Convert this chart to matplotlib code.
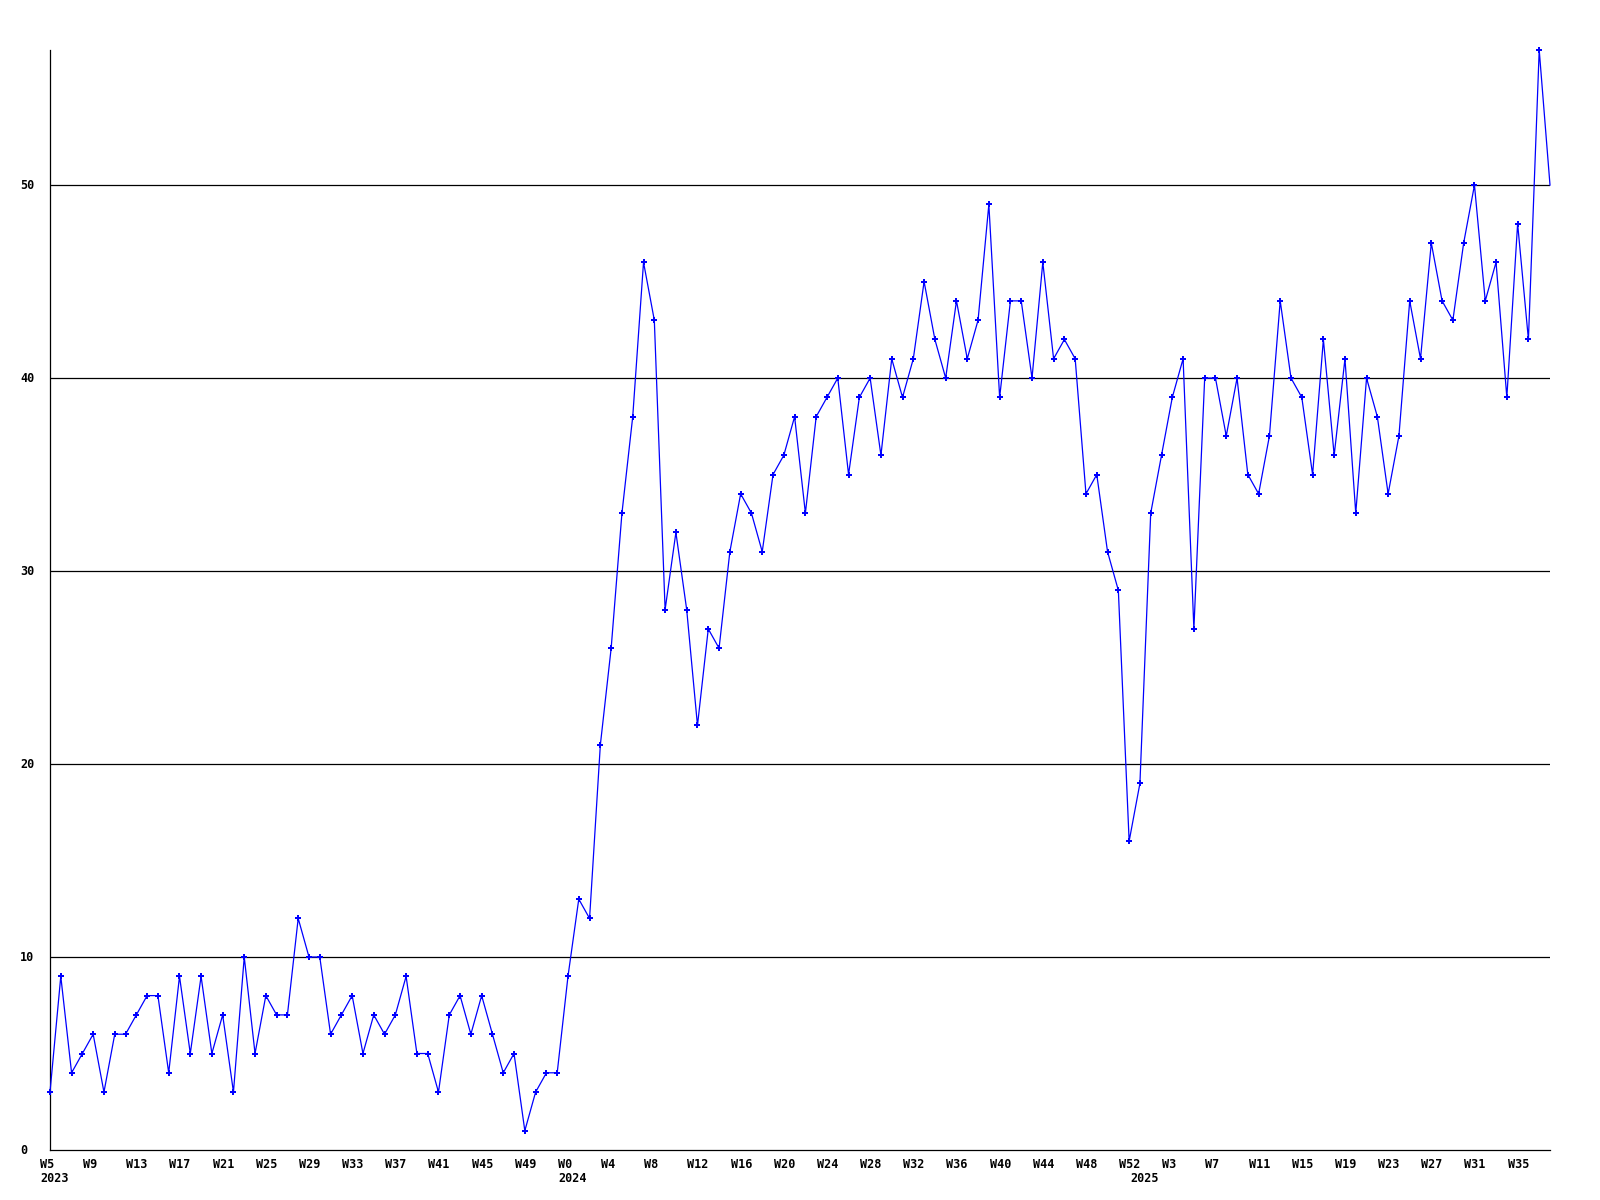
import matplotlib
matplotlib.use("Agg")
import matplotlib.pyplot as plt
import matplotlib.transforms as mtransforms

# ---- data ----
years = ["2023", "2024", "2025"]
weeks_2023 = list(range(5, 53))   # W5 .. W52
weeks_2024 = list(range(0, 53))   # W0 .. W52
weeks_2025 = list(range(0, 39))   # W0 .. W38

values_2023 = [3, 9, 4, 5, 6, 3, 6, 6, 7, 8, 8, 4, 9, 5, 9, 5, 7, 3, 10, 5,
               8, 7, 7, 12, 10, 10, 6, 7, 8, 5, 7, 6, 7, 9, 5, 5, 3, 7, 8, 6,
               8, 6, 4, 5, 1, 3, 4, 4]
values_2024 = [9, 13, 12, 21, 26, 33, 38, 46, 43, 28, 32, 28, 22, 27, 26, 31, 34, 33,
               31, 35, 36, 38, 33, 38, 39, 40, 35, 39, 40, 36, 41, 39, 41, 45, 42, 40,
               44, 41, 43, 49, 39, 44, 44, 40, 46, 41, 42, 41, 34, 35, 31, 29, 16]
values_2025 = [19, 33, 36, 39, 41, 27, 40, 40, 37, 40, 35, 34, 37, 44, 40, 39, 35, 42,
               36, 41, 33, 40, 38, 34, 37, 44, 41, 47, 44, 43, 47, 50, 44, 46, 39, 48,
               42, 57, 50]

y_ticks = [0, 10, 20, 30, 40, 50]
y_max = 57

week_labels = ([f"W{w}" for w in weeks_2023] + [f"W{w}" for w in weeks_2024]
               + [f"W{w}" for w in weeks_2025])
values = values_2023 + values_2024 + values_2025
year_starts = [0, len(weeks_2023), len(weeks_2023) + len(weeks_2024)]
x = list(range(len(values)))

# ---- figure ----
W, H, DPI = 1600, 1200, 100
fig = plt.figure(figsize=(W / DPI, H / DPI), dpi=DPI)
fig.patch.set_facecolor("white")
left_px, right_px, top_px, bottom_px = 50, 1550, 50, 1150
ax = fig.add_axes([left_px / W, 1 - bottom_px / H,
                   (right_px - left_px) / W, (bottom_px - top_px) / H])
ax.set_xlim(0, len(values) - 1)
ax.set_ylim(0, y_max)
for s in ["top", "right"]:
    ax.spines[s].set_visible(False)
for s in ["left", "bottom"]:
    ax.spines[s].set_linewidth(0.9)
    ax.spines[s].set_color("black")
ax.set_xticks([])
ax.set_yticks([])

# horizontal grid lines
for t in y_ticks[1:]:
    ax.axhline(t, color="black", lw=0.9, zorder=1)

# data line
ax.plot(x, values, color="#0000ff", lw=0.9, marker="P", markersize=5,
        markeredgewidth=0, markevery=list(range(len(values) - 1)),
        zorder=3, clip_on=False)

font = dict(family="DejaVu Sans Mono", fontweight="bold", fontsize=8.5, color="black")

# y labels at fixed pixel x
ytrans = mtransforms.blended_transform_factory(fig.transFigure, ax.transData)
for t in y_ticks:
    ax.text(20 / W, t, str(t), transform=ytrans, ha="left", va="center",
            clip_on=False, **font)

# x labels: every 4th week, plus year labels
xtrans = ax.get_xaxis_transform()
wk_off = mtransforms.ScaledTranslation(-10 / DPI, -8 / DPI, fig.dpi_scale_trans)
yr_off = mtransforms.ScaledTranslation(-10 / DPI, -22 / DPI, fig.dpi_scale_trans)
for i in range(0, len(values), 4):
    ax.text(i, 0, week_labels[i], transform=xtrans + wk_off, ha="left", va="top",
            clip_on=False, **font)
for i, yr in zip(year_starts, years):
    ax.text(i, 0, yr, transform=xtrans + yr_off, ha="left", va="top",
            clip_on=False, **font)

fig.savefig("out.png", dpi=DPI, facecolor="white")
